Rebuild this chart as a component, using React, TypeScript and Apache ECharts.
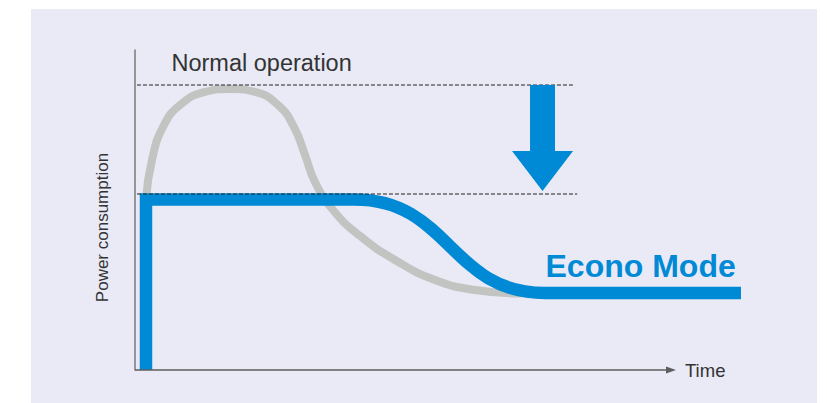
import React, { useEffect, useRef } from "react";
import * as echarts from "echarts";

// Normal operation curve (grey) — time vs power (0..100 scale)
const normalTime = [2.05, 3.17, 5.22, 8.4, 13.06, 17.72, 22.39, 26.68, 29.66, 31.72, 33.58, 36.94, 41.98, 48.51, 55.97, 63.43, 71.83];
const normalPower = [53.44, 65.63, 75.94, 82.81, 86.88, 87.81, 86.88, 82.81, 75.94, 67.19, 58.75, 50.0, 41.88, 34.38, 28.13, 25.0, 23.91];

// Econo Mode curve (blue)
const econoTime = [2.05, 2.05, 41, 76.5, 113.06];
const econoPower = [0, 53.3, 53.3, 24.06, 24.06];

// Time axis span (arrow end)
const timeAxisSpan = [0, 100];

// Reference levels (dashed)
const normalLevel = 89.06;
const econoLevel = 55.0;
const normalLevelSpan = [0.37, 81.7];
const econoLevelSpan = [0.37, 82.5];

// Reduction arrow: [x, top, head base, tip, shaft half width, head half width]
const arrowData = [[76.03, 89.06, 68.4, 55.9, 2.33, 5.69]];

const axisNames = { x: "Time", y: "Power consumption" };
const labels = { normal: "Normal operation", econo: "Econo Mode" };

const BLUE = "#0089d5";
const GREY = "#c2c4c2";
const FONT = '"Liberation Sans", Arial, Helvetica, sans-serif';

export default function App() {
  const ref = useRef<HTMLDivElement>(null);

  useEffect(() => {
    document.body.style.margin = "0";
    if (!ref.current) return;
    const chart = echarts.init(ref.current, undefined, { renderer: "svg" });

    const option: any = {
      animation: false,
      backgroundColor: "#ffffff",
      grid: { left: 135, top: 50, width: 606, height: 320, containLabel: false },
      xAxis: {
        type: "value",
        min: 0,
        max: 113.06,
        axisLine: { show: false },
        axisTick: { show: false },
        axisLabel: { show: false },
        splitLine: { show: false },
      },
      yAxis: {
        type: "value",
        min: 0,
        max: 100,
        axisLine: { show: true, lineStyle: { color: "#7a7a7a", width: 1.5 } },
        axisTick: { show: false },
        axisLabel: { show: false },
        splitLine: { show: false },
      },
      graphic: [
        {
          type: "rect",
          z: -10,
          silent: true,
          shape: { x: 31, y: 9, width: 786, height: 394 },
          style: { fill: "#e9eaf6" },
        },
        {
          type: "text",
          z: 10,
          x: 102.5,
          y: 227.5,
          rotation: Math.PI / 2,
          style: {
            text: axisNames.y,
            fill: "#333333",
            font: `17px ${FONT}`,
            align: "center",
            verticalAlign: "middle",
          },
        },
        {
          type: "text",
          z: 10,
          x: 685,
          y: 370,
          style: {
            text: axisNames.x,
            fill: "#333333",
            font: `18.5px ${FONT}`,
            align: "left",
            verticalAlign: "middle",
          },
        },
        {
          type: "text",
          z: 10,
          x: 171.5,
          y: 63,
          style: {
            text: labels.normal,
            fill: "#333333",
            font: `23.5px ${FONT}`,
            align: "left",
            verticalAlign: "middle",
          },
        },
        {
          type: "text",
          z: 10,
          x: 545.5,
          y: 266,
          style: {
            text: labels.econo,
            fill: BLUE,
            font: `bold 32px ${FONT}`,
            align: "left",
            verticalAlign: "middle",
          },
        },
      ],
      series: [
        {
          type: "line",
          name: "timeAxis",
          z: 1,
          data: [],
          markLine: {
            silent: true,
            symbol: ["none", "triangle"],
            symbolSize: [7, 10],
            label: { show: false },
            lineStyle: { color: "#5e5e5e", width: 1.5, type: "solid" },
            data: [[{ coord: [timeAxisSpan[0], 0] }, { coord: [timeAxisSpan[1], 0] }]],
          },
        },
        {
          type: "line",
          name: "normal",
          z: 2,
          data: normalTime.map((t, i) => [t, normalPower[i]]),
          smooth: 0.5,
          showSymbol: false,
          symbol: "none",
          lineStyle: { color: GREY, width: 8, cap: "round", join: "round" },
        },
        {
          type: "line",
          name: "econo",
          z: 3,
          data: econoTime.map((t, i) => [t, econoPower[i]]),
          smooth: 0.5,
          smoothMonotone: "x",
          showSymbol: false,
          symbol: "none",
          clip: false,
          lineStyle: { color: BLUE, width: 12.5, cap: "butt", join: "miter" },
        },
        {
          type: "line",
          name: "normalLevel",
          z: 4,
          data: normalLevelSpan.map((t) => [t, normalLevel]),
          showSymbol: false,
          symbol: "none",
          lineStyle: { color: "#222222", width: 1, type: [4, 2] },
        },
        {
          type: "line",
          name: "econoLevel",
          z: 4,
          data: econoLevelSpan.map((t) => [t, econoLevel]),
          showSymbol: false,
          symbol: "none",
          lineStyle: { color: "#222222", width: 1, type: [4, 2] },
        },
        {
          type: "custom",
          name: "reduction",
          z: 5,
          clip: false,
          data: arrowData,
          renderItem: (params: any, api: any) => {
            const x = api.value(0);
            const top = api.value(1);
            const base = api.value(2);
            const tip = api.value(3);
            const sh = api.value(4);
            const hh = api.value(5);
            const pts = [
              api.coord([x - sh, top]),
              api.coord([x + sh, top]),
              api.coord([x + sh, base]),
              api.coord([x + hh, base]),
              api.coord([x, tip]),
              api.coord([x - hh, base]),
              api.coord([x - sh, base]),
            ];
            return { type: "polygon", shape: { points: pts }, style: { fill: BLUE } };
          },
        },
      ],
    };

    chart.setOption(option);
    return () => chart.dispose();
  }, []);

  return (
    <div
      ref={ref}
      style={{ position: "absolute", left: 0, top: 0, width: 827, height: 403 }}
    />
  );
}
